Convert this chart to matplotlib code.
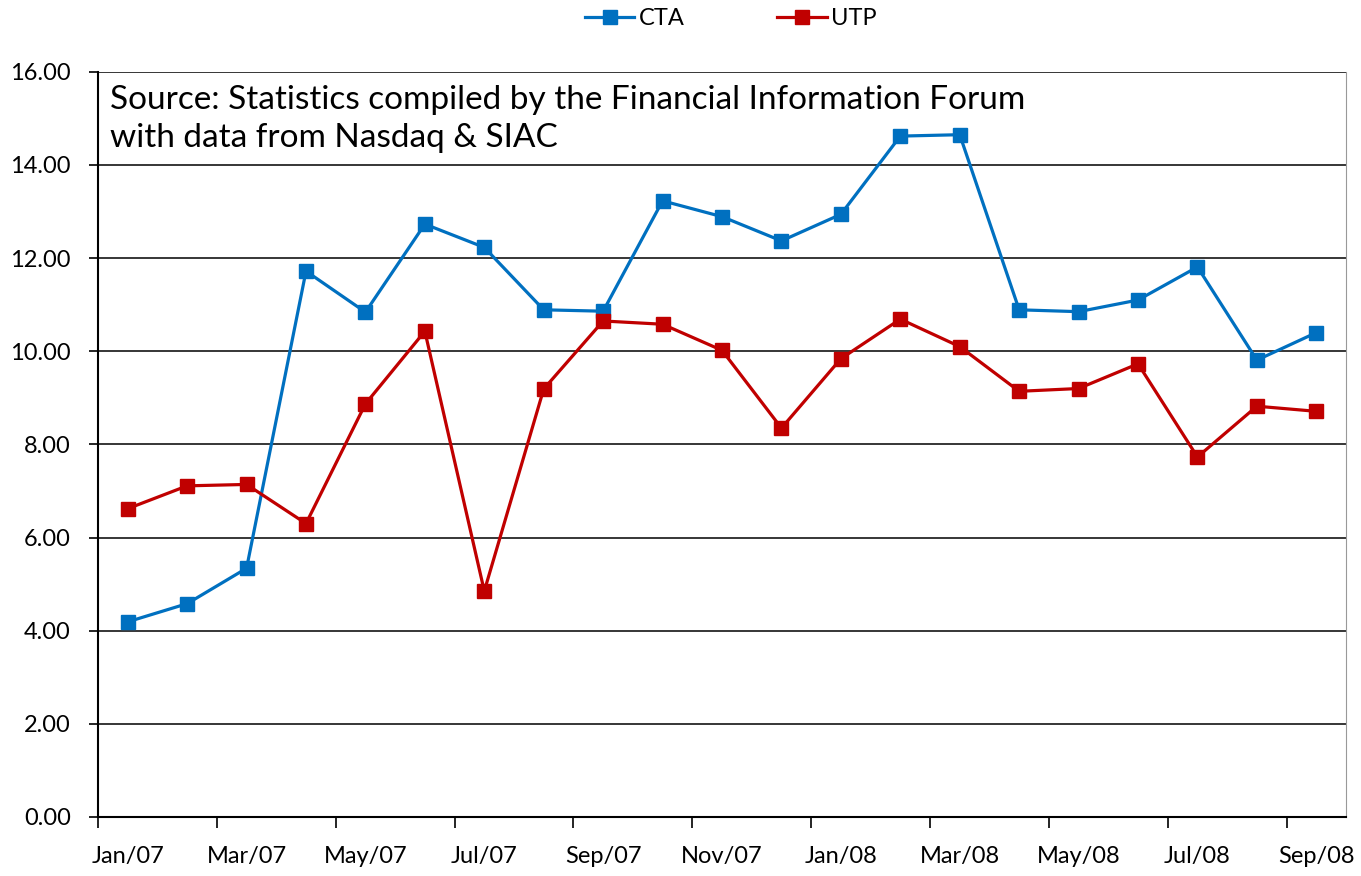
import matplotlib
matplotlib.use("Agg")
import matplotlib.pyplot as plt
import numpy as np

# ---------------------------------------------------------------------------
# Data
# ---------------------------------------------------------------------------
months = ["Jan/07", "Feb/07", "Mar/07", "Apr/07", "May/07", "Jun/07", "Jul/07",
          "Aug/07", "Sep/07", "Oct/07", "Nov/07", "Dec/07", "Jan/08", "Feb/08",
          "Mar/08", "Apr/08", "May/08", "Jun/08", "Jul/08", "Aug/08", "Sep/08"]
cta = [4.19, 4.58, 5.34, 11.72, 10.84, 12.73, 12.23, 10.89, 10.86, 13.23, 12.89,
       12.37, 12.94, 14.62, 14.65, 10.89, 10.85, 11.10, 11.81, 9.81, 10.40]
utp = [6.62, 7.11, 7.14, 6.30, 8.87, 10.43, 4.85, 9.19, 10.65, 10.58, 10.02,
       8.35, 9.84, 10.69, 10.10, 9.14, 9.20, 9.73, 7.73, 8.82, 8.71]
y_ticks = [0, 2, 4, 6, 8, 10, 12, 14, 16]
source_note = ("Source: Statistics compiled by the Financial Information Forum\n"
               "with data from Nasdaq & SIAC")

BLUE = "#0070C0"
RED = "#C00000"
FONT = "Lato"

fig = plt.figure(figsize=(13.61, 8.76), dpi=100)
ax = fig.add_axes([0.072, 0.0674, 0.917, 0.8506])

x = np.arange(len(months))
ax.plot(x, cta, color=BLUE, lw=2.3, marker="s", ms=10, label="CTA", zorder=3)
ax.plot(x, utp, color=RED, lw=2.3, marker="s", ms=10, label="UTP", zorder=3)

# ---- axes ---------------------------------------------------------------
ax.set_xlim(-0.5, len(months) - 0.5)
ax.set_ylim(0, 16)
ax.set_yticks(y_ticks)
ax.set_yticklabels([f"{v:.2f}" for v in y_ticks], fontsize=17, family=FONT)
ax.yaxis.grid(True, color="black", lw=1.1)
ax.set_axisbelow(True)

# tick marks on category boundaries, labels under every other month
ax.set_xticks(np.arange(-0.5, len(months), 2))
ax.set_xticklabels([])
ax.set_xticks(x[::2], minor=True)
ax.set_xticklabels(months[::2], minor=True, fontsize=17, family=FONT)
ax.tick_params(axis="x", which="major", length=8, width=1.2, direction="out")
ax.tick_params(axis="x", which="minor", length=0, pad=21)
ax.tick_params(axis="y", length=6.5, width=1.2, pad=13)

for side in ("left", "bottom"):
    ax.spines[side].set_linewidth(1.5)
    ax.spines[side].set_color("black")
ax.spines["right"].set_color("#999999")
ax.spines["top"].set_visible(False)

ax.text(0.01, 0.982, source_note, transform=ax.transAxes, ha="left", va="top",
        fontsize=24, family=FONT, linespacing=1.32)

fig.legend(loc="center", bbox_to_anchor=(0.537, 0.979), ncol=2, frameon=False,
           handlelength=2.1, handletextpad=0.2, columnspacing=3.9,
           prop={"family": FONT, "size": 17})

fig.savefig("out.png", dpi=100)
